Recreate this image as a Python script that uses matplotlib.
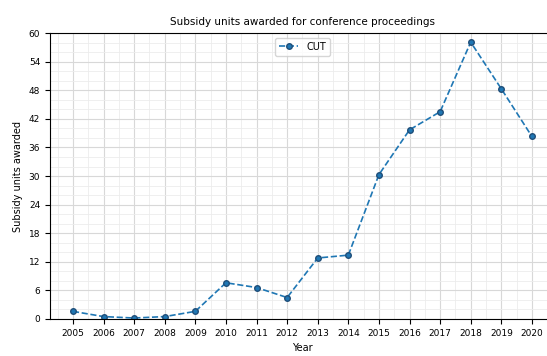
import numpy as np
import matplotlib.pyplot as plt
from matplotlib.ticker import AutoMinorLocator

# Subsidy units awarded per year
years = list(range(2005, 2021))
units = [1.6, 0.5, 0.2, 0.5, 1.6, 7.6, 6.6, 4.5, 12.8, 13.4,
         30.3, 39.7, 43.5, 58.1, 48.3, 38.3]
y_ticks = list(range(0, 61, 6))

fig = plt.figure(figsize=(5.47, 3.56), dpi=100)
ax = fig.add_axes([0.0914, 0.104, 0.923, 0.803])

ax.plot(years, units, linestyle='--', marker='o', markersize=4,
        color='#1f77b4', markeredgecolor='#1f4e79', linewidth=1.2, label='CUT')

ax.set_xticks(years)
ax.set_yticks(y_ticks)
ax.set_ylim(0, 60)
ax.tick_params(labelsize=6.5)

ax.xaxis.set_minor_locator(AutoMinorLocator(2))
ax.yaxis.set_minor_locator(AutoMinorLocator(3))
ax.grid(which='major', color='#d8d8d8', linewidth=0.8)
ax.grid(which='minor', color='#ececec', linewidth=0.6)
ax.tick_params(which='minor', length=0)

ax.set_title('Subsidy units awarded for conference proceedings', fontsize=7.5)
ax.set_xlabel('Year', fontsize=7)
ax.set_ylabel('Subsidy units awarded', fontsize=7)
ax.legend(loc='upper center', fontsize=7)

fig.savefig('out.png', dpi=100)
